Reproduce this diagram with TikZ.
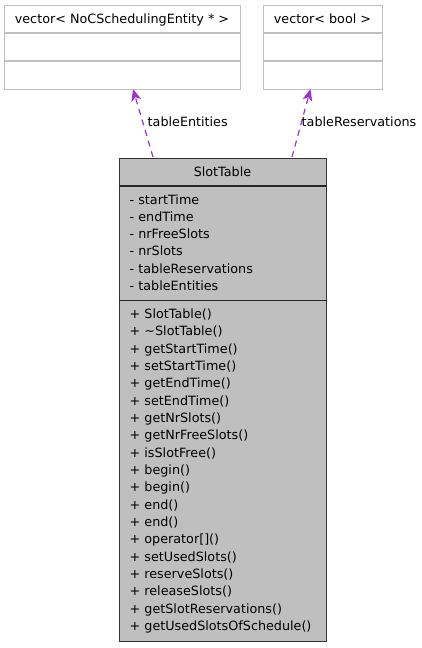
\documentclass[tikz,border=0pt]{standalone}
\usepackage{fontspec}
\setmainfont{DejaVu Sans}
\usetikzlibrary{arrows.meta}
\definecolor{edgec}{HTML}{9A32CD}
\definecolor{boxgray}{HTML}{BFBFBF}
\tikzset{
  txt/.style={inner sep=0pt, font=\fontsize{12.8}{14}\selectfont},
  lbl/.style={txt, anchor=base west},
  ctr/.style={txt, anchor=base},
  extbox/.style={draw=boxgray, line width=1.2bp, anchor=north west, inner sep=0pt},
  mainbox/.style={draw=black!80, fill=boxgray, line width=1.2bp, anchor=north west, inner sep=0pt},
  divline/.style={line width=1.4bp, draw=black!85},
  extdiv/.style={line width=1.2bp, draw=boxgray},
  dep/.style={draw=edgec, line width=1.2bp, dash pattern=on 6bp off 5bp,
    -{Stealth[length=12bp, width=10bp, inset=3.5bp]}},
}
\begin{document}
\begin{tikzpicture}[x=1bp, y=-1bp]
\useasboundingbox (0,0) rectangle (421,648);
% external class boxes
\node[extbox, minimum width=236bp, minimum height=84bp] (ve) at (4,5) {};
\draw[extdiv] (4,33) -- (240,33);
\draw[extdiv] (4,61) -- (240,61);
\node[ctr] (vet) at (122,23.5) {vector< NoCSchedulingEntity * >};
\node[extbox, minimum width=119bp, minimum height=84bp] (vb) at (263,5) {};
\draw[extdiv] (263,33) -- (382,33);
\draw[extdiv] (263,61) -- (382,61);
\node[ctr] (vbt) at (322.5,23.5) {vector< bool >};
% main class box
\node[mainbox, minimum width=207bp, minimum height=483bp] (st) at (119,158) {};
\draw[divline] (119,186) -- (326,186);
\draw[divline] (119,300.5) -- (326,300.5);
\node[ctr] (stt) at (222.5,176.5) {SlotTable};
\foreach \t [count=\i from 0] in {startTime,endTime,nrFreeSlots,nrSlots,tableReservations,tableEntities}
  \node[lbl] (a\i) at (129.5,{204+17.25*\i}) {- \t};
\foreach \t [count=\i from 0] in {SlotTable(),{\textasciitilde SlotTable()},getStartTime(),setStartTime(),getEndTime(),setEndTime(),getNrSlots(),getNrFreeSlots(),isSlotFree(),begin(),begin(),end(),end(),{operator[]()},setUsedSlots(),reserveSlots(),releaseSlots(),getSlotReservations(),getUsedSlotsOfSchedule()}
  \node[lbl] (m\i) at (129.5,{318.5+17.34*\i}) {+ \t};
% dependencies
\coordinate (s1) at (153,157);
\coordinate (t1) at (133,89);
\coordinate (s2) at (292,157);
\coordinate (t2) at (310.5,89);
\draw[dep] (s1) -- (t1);
\draw[dep] (s2) -- (t2);
\node[lbl] (l1) at (147.5,127) {tableEntities};
\node[lbl] (l2) at (301.5,127) {tableReservations};
\end{tikzpicture}
\end{document}
